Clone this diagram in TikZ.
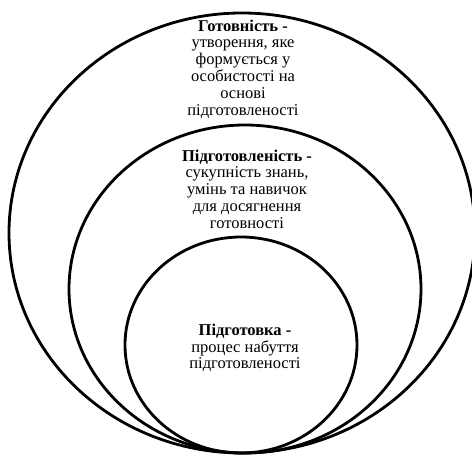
\documentclass[tikz,border=0pt]{standalone}
\usepackage{fontspec}
\setmainfont{Liberation Serif}
\usetikzlibrary{shapes.geometric}
\tikzset{
  ring/.style={draw=black, line width=2.8pt, ellipse, inner sep=0pt},
  label/.style={align=center, font=\fontsize{16.5}{16.8}\selectfont, inner sep=0pt}
}
\begin{document}
\begin{tikzpicture}[x=1pt,y=-1pt]
\useasboundingbox (0,0) rectangle (472,455);
\node[ring, minimum width=466pt, minimum height=440pt] (outer) at (242,233) {};
\node[ring, minimum width=352pt, minimum height=328pt] (middle) at (245,289) {};
\node[ring, minimum width=232pt, minimum height=216pt] (inner) at (241,345) {};
\node[label] (t1) at (243,69) {\textbf{Готовність -}\\утворення, яке\\формується у\\особистості на\\основі\\підготовленості};
\node[label] (t2) at (247,189) {\textbf{Підготовленість -}\\сукупність знань,\\умінь та навичок\\для досягнення\\готовності};
\node[label] (t3) at (245,348) {\textbf{Підготовка -}\\процес набуття\\підготовленості};
\end{tikzpicture}
\end{document}
